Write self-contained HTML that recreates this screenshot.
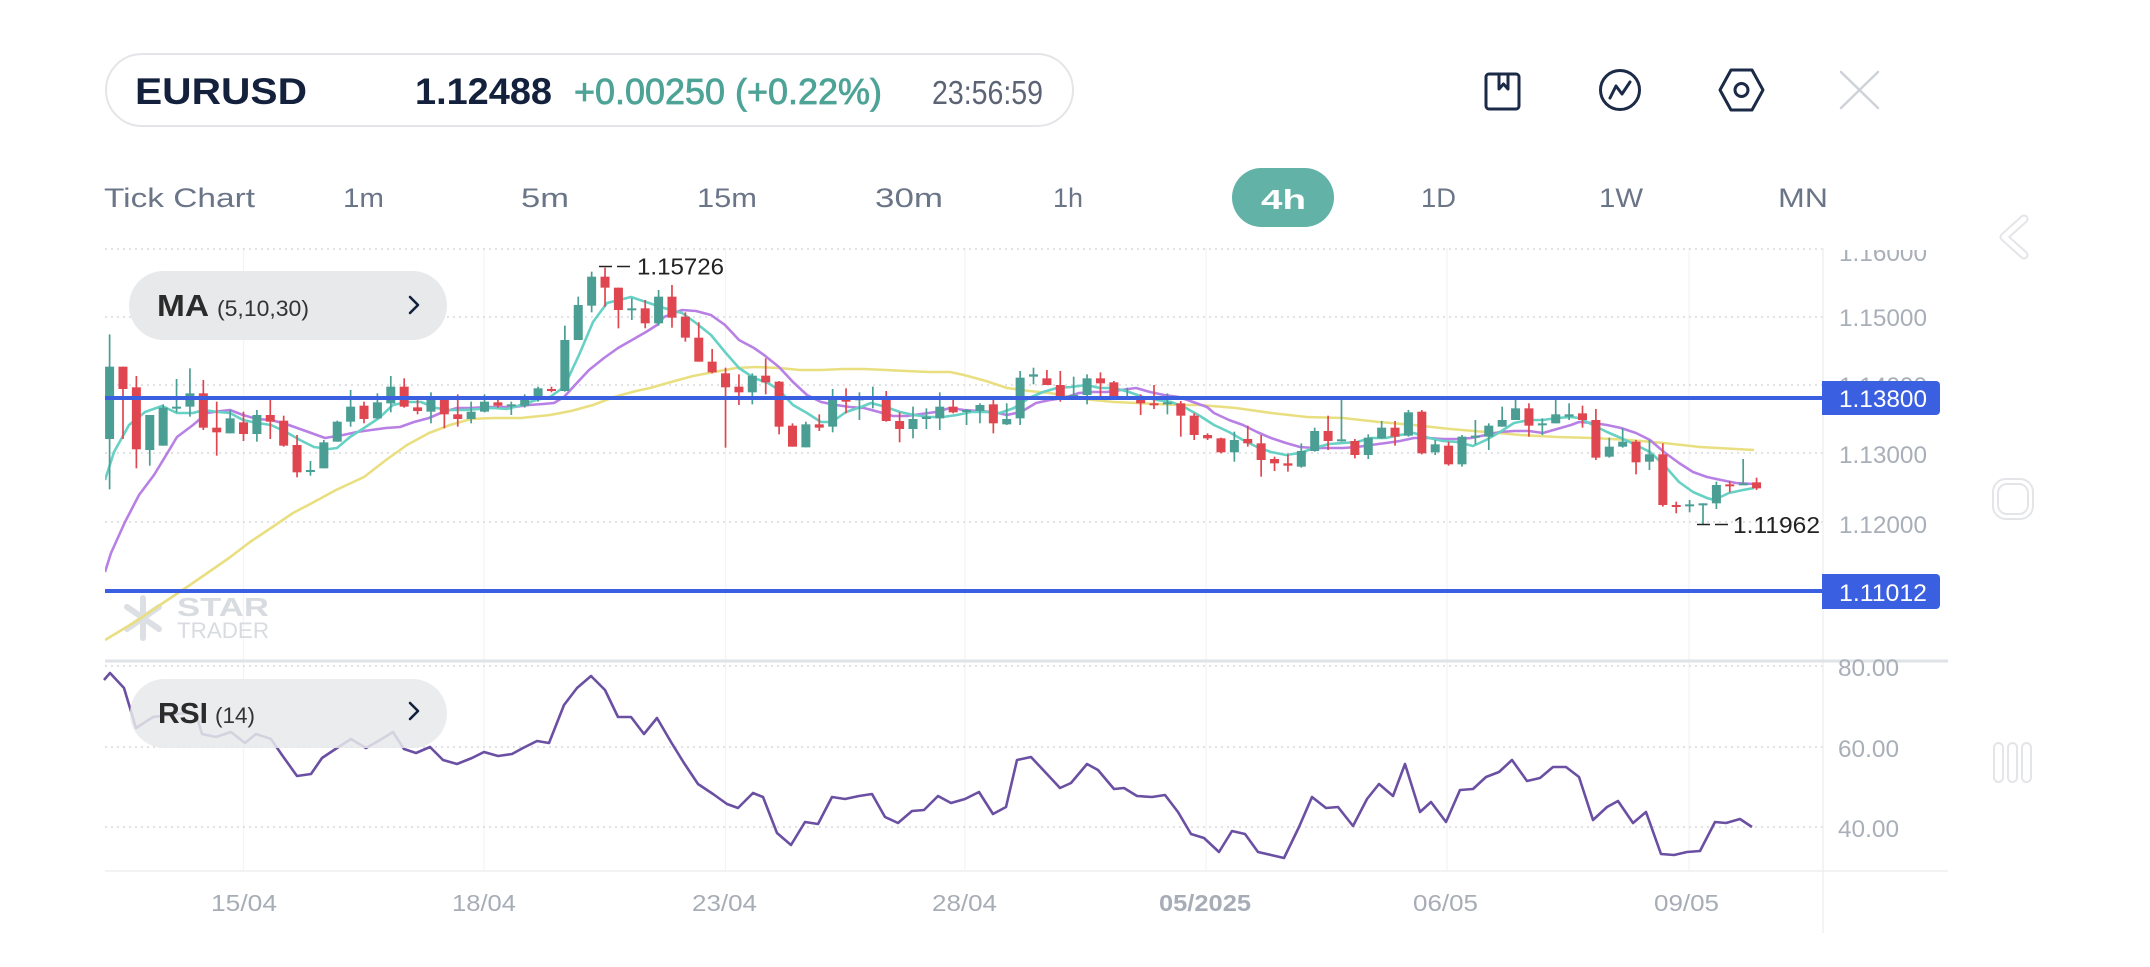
<!DOCTYPE html>
<html><head><meta charset="utf-8"><style>
html,body{margin:0;padding:0;background:#fff;}
body{width:2150px;height:967px;overflow:hidden;}
svg{display:block;font-family:"Liberation Sans",Arial,sans-serif;}
</style></head><body>
<svg id="s" width="2150" height="967" viewBox="0 0 2150 967" xmlns="http://www.w3.org/2000/svg">
<defs>
<clipPath id="mainclip"><rect x="105" y="247" width="1718" height="413"/></clipPath>
<clipPath id="axisclip"><rect x="1824" y="250" width="200" height="420"/></clipPath>
</defs>
<rect width="2150" height="967" fill="#fff"/>

<!-- header pill -->
<rect x="106" y="54" width="967" height="72" rx="36" fill="#fff" stroke="#e3e5e8" stroke-width="2"/>
<text x="135" y="104" font-size="37" font-weight="bold" fill="#13213d" textLength="172" lengthAdjust="spacingAndGlyphs">EURUSD</text>
<text x="415" y="104" font-size="37" font-weight="bold" fill="#13213d" textLength="137" lengthAdjust="spacingAndGlyphs">1.12488</text>
<text x="574" y="104" font-size="36" fill="#4ea397" stroke="#4ea397" stroke-width="0.8" textLength="308" lengthAdjust="spacingAndGlyphs">+0.00250 (+0.22%)</text>
<text x="932" y="104" font-size="33" fill="#5c6374" textLength="111" lengthAdjust="spacingAndGlyphs">23:56:59</text>

<!-- header icons -->
<g fill="none" stroke="#1b2a47" stroke-width="3" stroke-linejoin="round" stroke-linecap="round">
<rect x="1486" y="74" width="33" height="35" rx="3"/>
<polyline points="1499,75 1499,89 1503.5,84 1508,89 1508,75"/>
<circle cx="1620" cy="90" r="19.5"/>
<polyline points="1610,98 1616,86 1622,94 1630,82"/>
<polygon points="1720,90 1731,70 1752,70 1763,90 1752,110 1731,110"/>
<circle cx="1741.5" cy="90" r="6.5"/>
</g>
<g stroke="#cfd3d9" stroke-width="2.5" stroke-linecap="round">
<line x1="1841" y1="72" x2="1878" y2="108"/><line x1="1878" y1="72" x2="1841" y2="108"/>
</g>

<!-- timeframe row -->
<g font-size="27" fill="#6b7588">
<text x="104" y="207" textLength="151" lengthAdjust="spacingAndGlyphs">Tick Chart</text>
<text x="343" y="207" textLength="41" lengthAdjust="spacingAndGlyphs">1m</text>
<text x="521" y="207" textLength="48" lengthAdjust="spacingAndGlyphs">5m</text>
<text x="697" y="207" textLength="60" lengthAdjust="spacingAndGlyphs">15m</text>
<text x="875" y="207" textLength="68" lengthAdjust="spacingAndGlyphs">30m</text>
<text x="1053" y="207" textLength="30" lengthAdjust="spacingAndGlyphs">1h</text>
<text x="1421" y="207" textLength="35" lengthAdjust="spacingAndGlyphs">1D</text>
<text x="1599" y="207" textLength="44" lengthAdjust="spacingAndGlyphs">1W</text>
<text x="1778" y="207" textLength="50" lengthAdjust="spacingAndGlyphs">MN</text>
</g>
<rect x="1232" y="168" width="102" height="59" rx="29.5" fill="#62b2a8"/>
<text x="1261" y="209" font-size="28" font-weight="bold" fill="#fff" textLength="45" lengthAdjust="spacingAndGlyphs">4h</text>

<!-- right side icons -->
<polyline points="2024,219 2004,237 2024,255" fill="none" stroke="#e4e5e8" stroke-width="9" stroke-linecap="round" stroke-linejoin="round"/>
<polyline points="2024,219 2004,237 2024,255" fill="none" stroke="#fff" stroke-width="5" stroke-linecap="round" stroke-linejoin="round"/>
<rect x="1993" y="479" width="40" height="40" rx="13" fill="none" stroke="#e4e5e8" stroke-width="2"/>
<rect x="1998" y="484" width="30" height="30" rx="9" fill="none" stroke="#e4e5e8" stroke-width="2"/>
<g fill="none" stroke="#e4e5e8" stroke-width="2">
<rect x="1994" y="743" width="9" height="39" rx="4.5"/>
<rect x="2008" y="743" width="9" height="39" rx="4.5"/>
<rect x="2022" y="743" width="9" height="39" rx="4.5"/>
</g>

<!-- grid -->
<g stroke="#f3f4f6" stroke-width="1.3">
<line x1="243.5" y1="248" x2="243.5" y2="871"/>
<line x1="484" y1="248" x2="484" y2="871"/>
<line x1="725.5" y1="248" x2="725.5" y2="871"/>
<line x1="965" y1="248" x2="965" y2="871"/>
<line x1="1206" y1="248" x2="1206" y2="871"/>
<line x1="1447" y1="248" x2="1447" y2="871"/>
<line x1="1689" y1="248" x2="1689" y2="871"/>
</g>
<g stroke="#d6d9de" stroke-width="1.5" stroke-dasharray="2 4">
<line x1="105" y1="249" x2="1823" y2="249"/>
<line x1="105" y1="317" x2="1823" y2="317"/>
<line x1="105" y1="385" x2="1823" y2="385"/>
<line x1="105" y1="453" x2="1823" y2="453"/>
<line x1="105" y1="522" x2="1823" y2="522"/>
<line x1="105" y1="666" x2="1823" y2="666"/>
<line x1="105" y1="747" x2="1823" y2="747"/>
<line x1="105" y1="827" x2="1823" y2="827"/>
</g>
<line x1="1823" y1="248" x2="1823" y2="933" stroke="#eef0f2" stroke-width="1.5"/>
<line x1="105" y1="661" x2="1948" y2="661" stroke="#dfe2e6" stroke-width="3"/>
<line x1="105" y1="871" x2="1948" y2="871" stroke="#eceef0" stroke-width="1.5"/>

<!-- watermark -->
<g stroke="#dcdfe3" stroke-width="6" stroke-linecap="round">
<line x1="143" y1="598" x2="143" y2="638"/>
<line x1="127" y1="607" x2="159" y2="629"/>
<line x1="159" y1="607" x2="127" y2="629"/>
</g>
<text x="177" y="616" font-size="26" font-weight="bold" fill="#d8dbe0" textLength="92" lengthAdjust="spacingAndGlyphs">STAR</text>
<text x="177" y="638" font-size="22" fill="#d8dbe0" textLength="92" lengthAdjust="spacingAndGlyphs">TRADER</text>

<g id="main" clip-path="url(#mainclip)"></g>

<!-- blue levels -->
<line x1="105" y1="398" x2="1823" y2="398" stroke="#3a5fe0" stroke-width="4"/>
<line x1="105" y1="591" x2="1823" y2="591" stroke="#3a5fe0" stroke-width="4"/>

<!-- hi/lo labels -->
<line x1="599" y1="266.5" x2="634" y2="266.5" stroke="#222" stroke-width="1.6" stroke-dasharray="13 5"/>
<text x="637" y="274.5" font-size="23" fill="#222" textLength="87" lengthAdjust="spacingAndGlyphs">1.15726</text>
<line x1="1697" y1="524.5" x2="1731" y2="524.5" stroke="#222" stroke-width="1.6" stroke-dasharray="13 5"/>
<text x="1733" y="533" font-size="23" fill="#222" textLength="87" lengthAdjust="spacingAndGlyphs">1.11962</text>

<!-- price axis -->
<g clip-path="url(#axisclip)" font-size="24" fill="#a9afb8">
<text x="1839" y="261" textLength="88" lengthAdjust="spacingAndGlyphs">1.16000</text>
<text x="1839" y="326" textLength="88" lengthAdjust="spacingAndGlyphs">1.15000</text>
<text x="1839" y="394" textLength="88" lengthAdjust="spacingAndGlyphs">1.14000</text>
<text x="1839" y="463" textLength="88" lengthAdjust="spacingAndGlyphs">1.13000</text>
<text x="1839" y="533" textLength="88" lengthAdjust="spacingAndGlyphs">1.12000</text>
</g>
<path d="M1822,381 H1936 a4,4 0 0 1 4,4 V411 a4,4 0 0 1 -4,4 H1822 Z" fill="#3a5fe0"/>
<text x="1839" y="407" font-size="24" fill="#fff" textLength="88" lengthAdjust="spacingAndGlyphs">1.13800</text>
<path d="M1822,574 H1936 a4,4 0 0 1 4,4 V605 a4,4 0 0 1 -4,4 H1822 Z" fill="#3a5fe0"/>
<text x="1839" y="601" font-size="24" fill="#fff" textLength="88" lengthAdjust="spacingAndGlyphs">1.11012</text>

<!-- RSI axis -->
<g font-size="24" fill="#a9afb8">
<text x="1838" y="676" textLength="61" lengthAdjust="spacingAndGlyphs">80.00</text>
<text x="1838" y="757" textLength="61" lengthAdjust="spacingAndGlyphs">60.00</text>
<text x="1838" y="837" textLength="61" lengthAdjust="spacingAndGlyphs">40.00</text>
</g>

<!-- date labels -->
<g font-size="23" fill="#a7adb7">
<text x="211" y="911" textLength="66" lengthAdjust="spacingAndGlyphs">15/04</text>
<text x="452" y="911" textLength="64" lengthAdjust="spacingAndGlyphs">18/04</text>
<text x="692" y="911" textLength="65" lengthAdjust="spacingAndGlyphs">23/04</text>
<text x="932" y="911" textLength="65" lengthAdjust="spacingAndGlyphs">28/04</text>
<text x="1159" y="911" font-weight="bold" textLength="92" lengthAdjust="spacingAndGlyphs">05/2025</text>
<text x="1413" y="911" textLength="65" lengthAdjust="spacingAndGlyphs">06/05</text>
<text x="1654" y="911" textLength="65" lengthAdjust="spacingAndGlyphs">09/05</text>
</g>

<!-- RSI line -->
<polyline id="rsi" fill="none" stroke="#6a4fa2" stroke-width="2.6" stroke-linejoin="round" points="104,680 110,673 124,688 136,728 153,717 170,715 185,713 196,714 202,734 216,737 231,732 245,743 256,734 271,739 282,755 297,776 311,774 322,758 337,748 351,739 366,748 380,740 393,732 404,749 416,753 430,747 443,760 457,764 472,758 484,752 498,756 512,754 523,748 537,741 549,743 564,705 577,688 591,676 605,690 618,717 631,717 644,734 657,718 671,742 684,763 698,784 713,794 727,804 738,808 753,793 763,797 777,833 791,845 805,822 818,824 832,797 845,799 859,796 872,794 885,817 898,823 912,811 924,810 938,796 951,803 965,799 979,792 993,814 1006,807 1017,760 1031,757 1046,773 1060,788 1071,783 1087,764 1098,770 1114,789 1124,788 1137,796 1152,797 1165,795 1178,812 1191,834 1204,838 1219,852 1232,831 1245,834 1258,852 1271,855 1284,858 1299,827 1312,797 1326,808 1338,807 1353,826 1367,799 1379,784 1393,796 1405,764 1420,812 1431,802 1446,822 1460,790 1473,789 1486,777 1499,772 1512,760 1527,781 1540,778 1553,767 1566,767 1579,777 1593,820 1607,807 1618,801 1633,823 1646,812 1661,854 1674,855 1687,852 1700,851 1715,822 1726,823 1740,819 1752,827"/>

<!-- RSI pill -->
<rect x="130" y="679" width="317" height="69" rx="34.5" fill="#e8e9eb" fill-opacity="0.85"/>
<text x="158" y="723" font-size="29" font-weight="bold" fill="#2b2b2b" textLength="50" lengthAdjust="spacingAndGlyphs">RSI</text>
<text x="215" y="723" font-size="22" fill="#333" textLength="40" lengthAdjust="spacingAndGlyphs">(14)</text>
<polyline points="410,703 418,711 410,719" fill="none" stroke="#13213d" stroke-width="2.6" stroke-linecap="round" stroke-linejoin="round"/>

<!-- MA pill -->
<rect x="129" y="271" width="318" height="69" rx="34.5" fill="#e8e9eb"/>
<text x="157" y="316" font-size="31" font-weight="bold" fill="#2b2b2b" textLength="52" lengthAdjust="spacingAndGlyphs">MA</text>
<text x="217" y="316" font-size="22" fill="#333" textLength="92" lengthAdjust="spacingAndGlyphs">(5,10,30)</text>
<polyline points="410,297 418,305 410,313" fill="none" stroke="#13213d" stroke-width="2.6" stroke-linecap="round" stroke-linejoin="round"/>
</svg>
<script>
(function(){
var NS="http://www.w3.org/2000/svg";
var g=document.getElementById("main");
function el(t,a){var e=document.createElementNS(NS,t);for(var k in a)e.setAttribute(k,a[k]);g.appendChild(e);return e;}
var ma30="105,640 135,622 160,605 190,585 229,558 250,542 271,528 293,513 314,502 336,490 364,477 386,460 407,445 429,433 450,425 471,419 493,418 521,418 550,415 571,411 593,405 614,397 636,391 650,388 671,382 693,376 714,372 736,368 757,367 779,368 800,370 821,370 843,369 864,369 886,370 907,371 929,372 950,372 964,375 986,381 1007,388 1029,391 1050,393 1071,397 1093,400 1114,402 1136,403 1157,404 1179,405 1200,405 1236,408 1271,413 1307,417 1343,418 1379,422 1414,425 1450,429 1486,432 1521,435 1557,437 1593,438 1629,440 1664,443 1700,447 1736,449 1754,450";
var ma10="105,572 111,553 125,522 139,495 154,475 168,452 177,437 193,425 207,413 221,411 230,410 243,415 257,419 271,420 286,424 300,429 314,434 325,438 343,435 357,432 371,430 386,428 400,427 414,422 429,418 443,412 457,408 471,408 486,407 500,407 514,407 529,405 543,404 554,403 564,397 575,385 589,370 604,358 618,348 632,340 646,332 657,325 664,317 682,310 696,311 711,315 725,325 739,340 754,348 764,355 779,367 793,382 807,395 821,402 836,405 850,407 864,408 879,412 893,416 907,416 921,414 936,412 950,408 964,410 979,411 993,412 1007,415 1021,412 1036,403 1050,400 1064,398 1079,393 1093,392 1107,392 1121,390 1136,388 1150,392 1164,395 1179,397 1193,402 1207,407 1214,413 1229,420 1243,425 1257,432 1271,438 1286,443 1300,447 1314,448 1329,448 1343,448 1357,447 1371,445 1386,443 1400,441 1414,438 1429,438 1443,439 1457,439 1471,438 1486,435 1500,432 1514,431 1529,431 1543,433 1557,429 1571,425 1579,422 1593,423 1607,425 1621,428 1636,433 1650,440 1664,452 1679,463 1693,472 1707,477 1721,480 1736,483 1754,484";
var ma5="105,480 114,452 129,425 145,412 162,406 177,413 193,413 204,410 218,412 230,413 243,420 257,423 271,425 286,432 300,440 314,447 329,449 337,448 350,437 364,428 379,418 393,405 407,402 421,402 436,408 450,410 464,410 479,409 493,408 507,409 521,405 536,400 550,397 564,387 579,355 593,322 607,303 631,297 646,302 664,308 682,313 696,323 711,335 725,352 739,368 754,378 768,383 779,390 793,405 807,413 821,422 832,422 846,412 861,407 871,403 886,407 900,412 914,415 929,417 943,417 957,415 971,412 986,412 1000,413 1014,408 1029,398 1043,392 1057,388 1071,387 1086,385 1100,388 1114,388 1129,392 1143,397 1157,400 1171,402 1186,408 1200,416 1214,425 1229,432 1243,440 1257,447 1271,452 1286,455 1300,453 1314,448 1329,444 1343,443 1357,442 1371,438 1386,438 1400,435 1414,433 1429,438 1443,441 1457,442 1473,446 1486,440 1500,432 1514,423 1529,420 1543,420 1557,418 1571,417 1579,418 1593,425 1607,432 1621,438 1636,445 1650,452 1664,465 1679,482 1693,492 1707,498 1714,500 1729,493 1743,490 1754,488";
el("polyline",{points:ma30,fill:"none",stroke:"#e9df80","stroke-width":"2.6","stroke-linejoin":"round"});
el("polyline",{points:ma10,fill:"none",stroke:"#b880e4","stroke-width":"2.6","stroke-linejoin":"round"});
el("polyline",{points:ma5,fill:"none",stroke:"#66d1c4","stroke-width":"2.6","stroke-linejoin":"round"});
var C=[
[-10,'g',238,335,552,703],[-9,'r',335,335,402,552],[-8,'r',363,397,583,640],[-7,'g',480,480,585,632],[-6,'g',448,458,572,572],[-5,'g',372,455,460,472],[-4,'g',340,415,455,485],[-3,'r',375,415,518,525],[-2,'r',440,518,532,602],[-1,'g',465,490,535,535],
[0,'r',470,502,537,558],[1,'g',465,480,537,560],[2,'r',435,480,500,552],[3,'r',482,497,572,575],[4,'r',540,570,652,667],[5,'g',618,645,650,662],[6,'g',555,562,640,640],[7,'g',497,500,560,560],[8,'g',405,455,500,515],[9,'r',440,452,492,505],
[10,'g',415,442,490,492],[11,'g',363,395,445,472],[12,'r',370,395,455,458],[13,'r',425,457,468,478],[14,'g',412,432,470,505],[15,'r',428,432,478,520],[16,'r',418,478,492,515],[17,'g',440,470,492,505],[18,'g',418,440,470,472],[19,'r',435,442,452,458],
[20,'g',440,448,452,480],[21,'g',418,425,452,458],[22,'g',395,400,425,440],[23,'r',395,402,408,412],[24,'g',212,255,408,410],[25,'g',125,150,255,255],[26,'g',50,65,152,172],[27,'r',38,65,98,155],[28,'r',98,98,165,220],[29,'g',130,160,165,195],
[30,'r',135,160,205,220],[31,'g',105,125,205,212],[32,'r',90,125,188,218],[33,'r',172,185,248,260],[34,'r',202,248,320,320],[35,'r',282,320,352,355],[36,'r',338,355,397,578],[37,'r',358,395,412,450],[38,'g',355,362,412,448],[39,'r',310,362,382,418],
[40,'r',378,380,515,538],[41,'r',505,512,575,575],[42,'g',500,508,577,577],[43,'r',478,508,518,528],[44,'g',402,428,515,532],[45,'r',400,428,440,475],[46,'g',412,430,436,495],[47,'g',395,425,432,460],[48,'r',408,425,498,500],[49,'r',472,498,522,562],
[50,'g',455,492,522,550],[51,'g',460,485,492,522],[52,'g',412,455,490,525],[53,'r',428,455,472,475],[54,'g',462,465,470,510],[55,'g',445,450,468,505],[56,'r',432,448,505,535],[57,'g',445,492,508,510],[58,'g',348,368,490,510],[59,'g',338,358,365,388],
[60,'r',345,370,390,390],[61,'r',348,390,435,440],[62,'g',365,420,432,435],[63,'g',358,370,420,448],[64,'r',352,370,385,430],[65,'r',378,382,430,435],[66,'g',398,425,430,432],[67,'r',418,425,445,480],[68,'r',390,445,450,462],[69,'g',415,442,448,478],
[70,'r',438,445,482,545],[71,'r',475,482,540,555],[72,'r',535,540,550,555],[73,'r',548,550,592,595],[74,'g',530,555,592,620],[75,'r',512,552,565,575],[76,'r',540,565,615,665],[77,'r',605,612,625,648],[78,'r',598,625,632,650],[79,'g',565,588,635,638],
[80,'g',518,528,588,590],[81,'r',482,528,558,585],[82,'g',430,553,558,560],[83,'r',552,558,600,610],[84,'g',538,548,600,612],[85,'g',498,518,550,552],[86,'r',498,518,545,572],[87,'g',465,472,542,545],[88,'r',465,470,595,598],[89,'g',555,568,592,600],
[90,'r',560,572,628,632],[91,'g',540,545,628,635],[92,'g',495,542,548,568],[93,'g',505,512,545,585],[94,'g',455,495,515,515],[95,'g',430,460,495,495],[96,'r',445,460,512,545],[97,'g',490,505,510,540],[98,'g',435,478,505,505],[99,'g',445,478,485,495],
[100,'r',452,475,495,518],[101,'r',462,495,608,615],[102,'g',548,575,605,608],[103,'g',520,560,575,578],[104,'r',555,560,622,658],[105,'g',555,598,620,645],[106,'r',565,598,750,755],[107,'r',740,750,755,775],[108,'g',735,748,752,772],[109,'g',745,745,750,808],
[110,'g',680,690,745,762],[111,'r',678,688,692,712],[112,'g',612,685,690,690],[113,'r',668,682,700,705]
];
function Y(v){return 255+v/3;}
for(var n=0;n<C.length;n++){
 var c=C[n],x=243.5+13.39*c[0],col=c[1]=='g'?'#4b9e93':'#e0464f';
 el("line",{x1:x,x2:x,y1:Y(c[2]),y2:Y(c[5]),stroke:col,"stroke-width":"1.7"});
 var t=Y(c[3]),b=Y(c[4]),h=Math.max(b-t,2);
 el("rect",{x:x-4.5,y:t,width:9,height:h,fill:col});
}
})();
</script>
</body></html>
